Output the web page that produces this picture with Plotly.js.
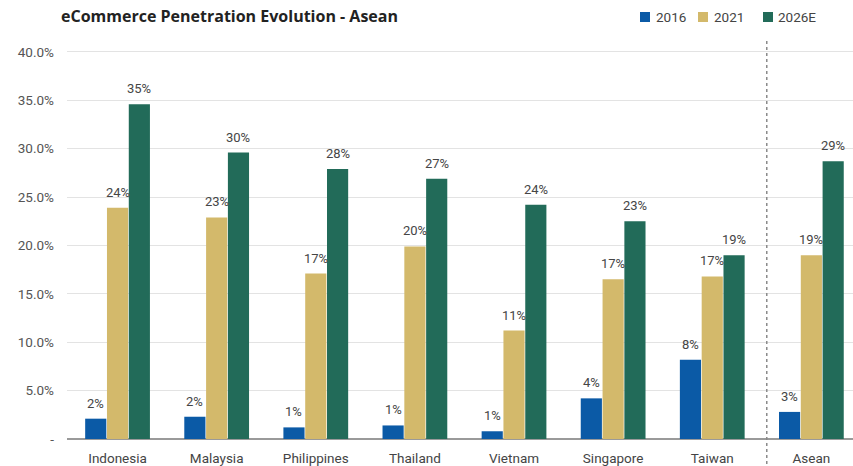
<!DOCTYPE html>
<html>
<head>
<meta charset="utf-8">
<script src="https://cdn.plot.ly/plotly-3.0.1.min.js"></script>
<style>
  html, body { margin: 0; padding: 0; background: #ffffff; }
  #chart { width: 853px; height: 466px; }
</style>
</head>
<body>
<div id="chart"></div>
<script>
// Markets shown along the x axis
const markets = ['Indonesia', 'Malaysia', 'Philippines', 'Thailand', 'Vietnam', 'Singapore', 'Taiwan', 'Asean'];

// eCommerce penetration, % of retail
const pen2016 = [2.1, 2.3, 1.2, 1.4, 0.8, 4.2, 8.2, 2.8];
const pen2021 = [23.9, 22.9, 17.1, 19.9, 11.2, 16.5, 16.8, 19.0];
const pen2026E = [34.6, 29.6, 27.9, 26.9, 24.2, 22.5, 19.0, 28.7];

const seriesNames = ['2016', '2021', '2026E'];

// Y axis ticks
const yTickVals = [0, 5, 10, 15, 20, 25, 30, 35, 40];
const yTickText = ['-', '5.0%', '10.0%', '15.0%', '20.0%', '25.0%', '30.0%', '35.0%', '40.0%'];

const colors = ['#0b5aa6', '#d3b96b', '#226b59'];
const series = [pen2016, pen2021, pen2026E];

// Figure geometry (px)
const W = 853, H = 466;
const M = { l: 67, r: 0, t: 50, b: 27 };
const plotW = W - M.l - M.r;
const plotH = H - M.t - M.b;
const xRange = [-0.51, 7.42];
const bargap = 0.34, bargroupgap = 0.03;

// pixel -> paper helpers for the hand-placed legend
const px2x = px => (px - M.l) / plotW;
const py2y = py => (H - M.b - py) / plotH;

const traces = series.map((vals, i) => ({
  type: 'bar',
  name: seriesNames[i],
  x: markets,
  y: vals,
  marker: { color: colors[i] },
  showlegend: false,
  hoverinfo: 'x+y'
}));

// Value labels above each bar, shifted to sit over its own bar in the group
const catPx = plotW / (xRange[1] - xRange[0]);
const slotPx = catPx * (1 - bargap) / series.length;
const annotations = [];
series.forEach((vals, i) => {
  const dx = (i - (series.length - 1) / 2) * slotPx;
  vals.forEach((v, j) => {
    annotations.push({
      x: markets[j], y: v, xref: 'x', yref: 'y',
      text: Math.round(v) + '%',
      showarrow: false,
      xanchor: 'center', yanchor: 'bottom',
      xshift: dx, yshift: 6,
      font: { family: 'Roboto, sans-serif', size: 13, color: '#454545' }
    });
  });
});

// Legend: small squares with labels, top right
const legendItems = [
  { sq: 640, tx: 654 },
  { sq: 698, tx: 712 },
  { sq: 763, tx: 776 }
];
const legendY = 17, sqSize = 10;
const shapes = [];
legendItems.forEach((it, i) => {
  shapes.push({
    type: 'rect', xref: 'paper', yref: 'paper',
    x0: px2x(it.sq), x1: px2x(it.sq + sqSize),
    y0: py2y(legendY + sqSize / 2), y1: py2y(legendY - sqSize / 2),
    fillcolor: colors[i], line: { width: 0 }
  });
  annotations.push({
    xref: 'paper', yref: 'paper',
    x: px2x(it.tx), y: py2y(legendY),
    xanchor: 'left', yanchor: 'middle',
    text: seriesNames[i], showarrow: false,
    font: { family: 'Roboto, sans-serif', size: 13.5, color: '#444' }
  });
});

// Dotted divider between single markets and the regional total
shapes.push({
  type: 'line',
  xref: 'x', yref: 'paper',
  x0: 6.55, x1: 6.55,
  y0: py2y(470), y1: py2y(40),
  line: { color: '#8a8a8a', width: 1.5, dash: 'dot' }
});

const layout = {
  width: W,
  height: H,
  margin: M,
  paper_bgcolor: '#ffffff',
  plot_bgcolor: '#ffffff',
  barmode: 'group',
  bargap: bargap,
  bargroupgap: bargroupgap,
  title: {
    text: '<b>eCommerce Penetration Evolution - Asean</b>',
    font: { family: 'Open Sans, sans-serif', size: 16, color: '#222' },
    x: 61 / W, xanchor: 'left', xref: 'container',
    y: 1 - 16 / H, yanchor: 'middle', yref: 'container'
  },
  showlegend: false,
  xaxis: {
    type: 'category',
    range: xRange,
    showgrid: false,
    showline: false,
    ticks: '',
    ticklabelstandoff: 9,
    tickfont: { family: 'Roboto, sans-serif', size: 13.5, color: '#444' },
    fixedrange: true
  },
  yaxis: {
    range: [0, 40.2],
    tickvals: yTickVals,
    ticktext: yTickText,
    showgrid: true,
    gridcolor: '#e3e3e3',
    gridwidth: 1,
    zeroline: true,
    zerolinecolor: '#9a9a9a',
    zerolinewidth: 1.5,
    showline: false,
    ticks: '',
    ticklabelstandoff: 12,
    tickfont: { family: 'Roboto, sans-serif', size: 13.5, color: '#555' },
    fixedrange: true
  },
  shapes: shapes,
  annotations: annotations
};

Plotly.newPlot('chart', traces, layout, { displayModeBar: false, staticPlot: true });
</script>
</body>
</html>
